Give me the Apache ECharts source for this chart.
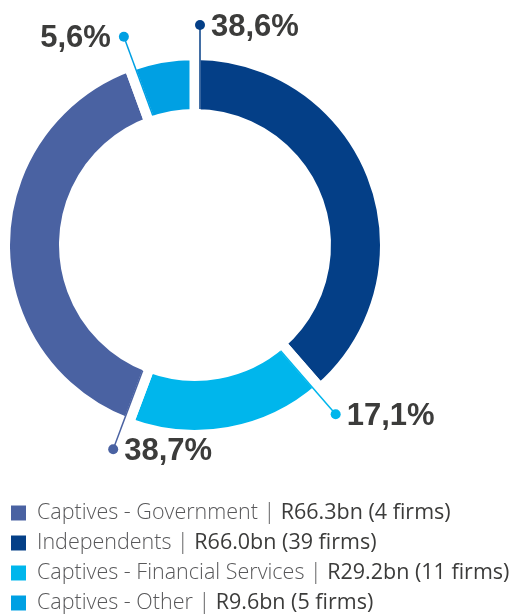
<!DOCTYPE html>
<html>
<head>
<meta charset="utf-8">
<script src="https://cdn.jsdelivr.net/npm/echarts@6.0.0/dist/echarts.min.js"></script>
<style>
  html, body { margin: 0; padding: 0; background: #ffffff; }
  #chart { width: 527px; height: 616px; }
</style>
</head>
<body>
<div id="chart"></div>
<script>
// Segments in clockwise order starting at 12 o'clock
const categories = ['Independents', 'Captives - Financial Services', 'Captives - Government', 'Captives - Other'];
const sharePct = [38.6, 17.1, 38.7, 5.6];
const assetsBn = [66.0, 29.2, 66.3, 9.6];
const firmCounts = [39, 11, 4, 5];
const legendOrder = ['Captives - Government', 'Independents', 'Captives - Financial Services', 'Captives - Other'];

const palette = {
  'Independents': '#043f87',
  'Captives - Financial Services': '#00b6ec',
  'Captives - Government': '#4a62a2',
  'Captives - Other': '#00a0e3'
};

const CENTER = [195, 245];
const GAP = 11;            // white separation between segments
const R_INNER = 136;       // visible inner edge of the ring
const R_OUTER = 185;       // visible outer edge of the ring
const R_DOT = 220;         // radius at which the callout dots sit

// Cumulative start of every segment (in percent of the whole)
const segmentStart = [];
sharePct.reduce((acc, v, i) => { segmentStart[i] = acc; return acc + v; }, 0);
const total = sharePct.reduce((a, b) => a + b, 0);

const fmtPct = v => v.toFixed(1).replace('.', ',') + '%';

function renderCallout(params, api) {
  const i = params.dataIndex;
  const color = palette[categories[i]];
  const rDot = api.value(0);
  const angleVal = api.value(1);
  const pIn = api.coord([R_INNER, angleVal]);
  const pOut = api.coord([rDot, angleVal]);
  const c = api.coord([0, 0]);
  const dx = pOut[0] - pIn[0], dy = pOut[1] - pIn[1];
  const len = Math.hypot(dx, dy);
  const ux = dx / len, uy = dy / len;
  // shift onto the leading edge of the segment (clockwise side of the gap)
  const off = GAP / 2 - 0.5;
  const px = -uy * off, py = ux * off;
  const x1 = pIn[0] + px, y1 = pIn[1] + py;
  const x2 = pOut[0] + px, y2 = pOut[1] + py;
  const leftSide = x2 < c[0] - 40 && y2 < c[1];
  return {
    type: 'group',
    children: [
      { type: 'line', shape: { x1, y1, x2, y2 }, style: { stroke: color, lineWidth: 1.5 } },
      { type: 'circle', shape: { cx: x2, cy: y2, r: 5 }, style: { fill: color } },
      {
        type: 'text',
        x: leftSide ? x2 - 13 : x2 + 11,
        y: y2 + 2,
        style: {
          text: fmtPct(sharePct[i]),
          fill: '#3c3c3b',
          font: 'bold 31px "Liberation Sans", Arial, sans-serif',
          align: leftSide ? 'right' : 'left',
          textAlign: leftSide ? 'right' : 'left',
          verticalAlign: 'middle',
          textVerticalAlign: 'middle'
        }
      }
    ]
  };
}

const chart = echarts.init(document.getElementById('chart'), null, { renderer: 'canvas' });

chart.setOption({
  animation: false,
  backgroundColor: '#ffffff',
  polar: { center: CENTER, radius: R_DOT },
  angleAxis: { type: 'value', min: 0, max: total, startAngle: 90, clockwise: true, show: false },
  radiusAxis: { type: 'value', min: 0, max: R_DOT, show: false },
  legend: {
    data: legendOrder,
    orient: 'vertical',
    left: 4,
    top: 497,
    height: 200,
    icon: 'rect',
    itemWidth: 17,
    itemHeight: 17,
    itemGap: 8,
    selectedMode: false,
    formatter: name => {
      const i = categories.indexOf(name);
      return '{a|' + name + ' | }{b|R' + assetsBn[i].toFixed(1) + 'bn (' + firmCounts[i] + ' firms)}';
    },
    textStyle: {
      fontFamily: 'Open Sans',
      fontSize: 21.5,
      lineHeight: 17,
      padding: [0, 0, 0, 5],
      rich: {
        a: { fontFamily: 'Open Sans', fontSize: 21.5, fontWeight: 300, color: '#58585a', lineHeight: 17 },
        b: { fontFamily: 'Open Sans', fontSize: 21.5, fontWeight: 400, color: '#3c3c3b', lineHeight: 17 }
      }
    }
  },
  series: [
    {
      type: 'pie',
      center: CENTER,
      radius: [R_INNER - GAP / 2, R_OUTER + GAP / 2],
      startAngle: 90,
      clockwise: true,
      silent: true,
      z: 1,
      label: { show: false },
      labelLine: { show: false },
      emphasis: { disabled: true },
      itemStyle: { borderColor: '#ffffff', borderWidth: GAP },
      data: categories.map((name, i) => ({
        name,
        value: sharePct[i],
        itemStyle: { color: palette[name] }
      }))
    },
    {
      type: 'custom',
      coordinateSystem: 'polar',
      silent: true,
      z: 5,
      renderItem: renderCallout,
      data: categories.map((name, i) => ({ name, value: [R_DOT, segmentStart[i]] }))
    }
  ]
});
</script>
</body>
</html>
